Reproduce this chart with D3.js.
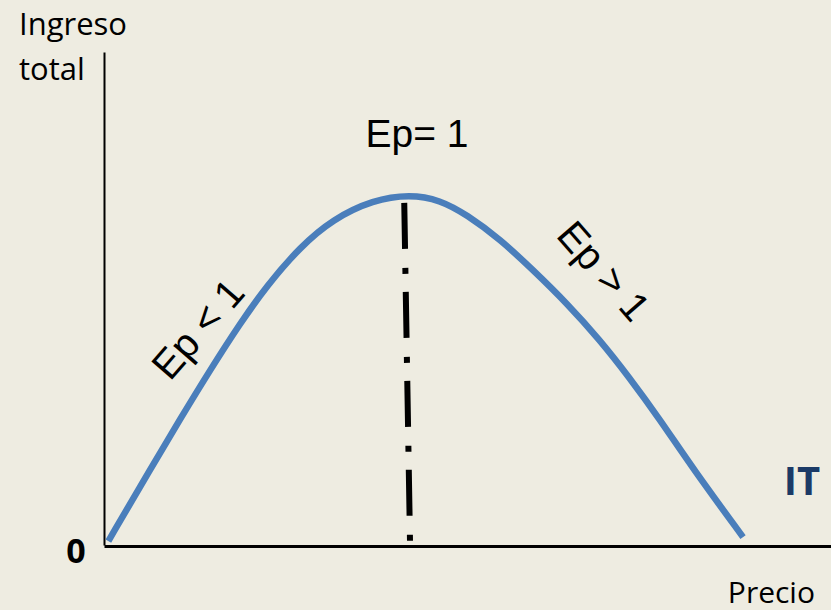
<!DOCTYPE html>
<html>
<head>
<meta charset="utf-8">
<script src="https://cdn.jsdelivr.net/npm/d3@7/dist/d3.min.js"></script>
<style>
  html, body { margin: 0; padding: 0; background: #EEECE1; }
  svg { display: block; }
</style>
</head>
<body>
<svg id="chart" width="831" height="610"></svg>
<script>
// Data (price units, total revenue units)
const price = [0.06, 0.63, 1.05, 1.46, 1.87, 2.24, 2.70, 3.15, 3.70, 4.21, 4.62, 4.99, 5.45, 5.90, 6.37, 6.82, 7.21, 7.65, 8.10, 8.79];
const ingreso = [0.08, 1.52, 2.56, 3.55, 4.49, 5.26, 6.05, 6.61, 7.00, 7.11, 7.00, 6.70, 6.20, 5.58, 4.90, 4.16, 3.43, 2.54, 1.55, 0.16];
const peakLinePrice = [4.13, 4.21];
const peakLineIngreso = [6.94, 0];
const labels = { yTitle: ["Ingreso", "total"], xTitle: "Precio", zero: "0", series: "IT",
                 peak: "Ep= 1", left: "Ep < 1", right: "Ep > 1" };

const svg = d3.select("#chart");
svg.append("rect").attr("width", 831).attr("height", 610).attr("fill", "#EEECE1");

const x = d3.scaleLinear().domain([0, 10]).range([104, 831]);
const y = d3.scaleLinear().domain([0, 10]).range([545, 52]);

// Axes (no ticks)
const yAxis = svg.append("g").attr("transform", `translate(${x(0)},0)`)
  .call(d3.axisLeft(y).tickValues([]).tickSizeOuter(0));
yAxis.select(".domain").attr("stroke", "#000").attr("stroke-width", 2);

const xAxis = svg.append("g").attr("transform", `translate(0,${y(0) + 1})`)
  .call(d3.axisBottom(x).tickValues([]).tickSizeOuter(0));
xAxis.select(".domain").attr("stroke", "#000").attr("stroke-width", 3);

// Dash-dot line at the peak
const peakPts = peakLinePrice.map((p, i) => [p, peakLineIngreso[i]]);
svg.append("path")
  .datum(peakPts)
  .attr("d", d3.line().x(d => x(d[0])).y(d => y(d[1])))
  .attr("fill", "none")
  .attr("stroke", "#000")
  .attr("stroke-width", 6)
  .attr("stroke-dasharray", "46,19,6,18");

// IT curve
const pts = price.map((p, i) => [p, ingreso[i]]);
svg.append("path")
  .datum(pts)
  .attr("d", d3.line().x(d => x(d[0])).y(d => y(d[1])).curve(d3.curveBasis))
  .attr("fill", "none")
  .attr("stroke", "#4A7EBB")
  .attr("stroke-width", 6.5)
  .attr("stroke-linecap", "butt");

// Texts
const sans = "'Open Sans', sans-serif";
const arial = "'Liberation Sans', Arial, sans-serif";

svg.append("text").attr("x", 19).attr("y", 35).attr("font-family", sans).attr("font-size", 31)
  .attr("fill", "#000").text(labels.yTitle[0]);
svg.append("text").attr("x", 19).attr("y", 80).attr("font-family", sans).attr("font-size", 31)
  .attr("fill", "#000").text(labels.yTitle[1]);

svg.append("text").attr("x", 815).attr("y", 603).attr("text-anchor", "end")
  .attr("font-family", sans).attr("font-size", 30).attr("fill", "#000").text(labels.xTitle);

svg.append("text").attr("x", 76).attr("y", 563).attr("text-anchor", "middle")
  .attr("font-family", sans).attr("font-weight", "bold").attr("font-size", 34)
  .attr("fill", "#000").text(labels.zero);

svg.append("text").attr("x", 802).attr("y", 495).attr("text-anchor", "middle")
  .attr("font-family", sans).attr("font-weight", "bold").attr("font-size", 40)
  .attr("fill", "#1b3a66").text(labels.series);

svg.append("text").attr("x", 417).attr("y", 147).attr("text-anchor", "middle")
  .attr("font-family", arial).attr("font-size", 39).attr("fill", "#000").text(labels.peak);

svg.append("text").attr("transform", "translate(170,382) rotate(-49)")
  .attr("font-family", arial).attr("font-size", 40).attr("fill", "#000").text(labels.left);

svg.append("text").attr("transform", "translate(555,236) rotate(49)")
  .attr("font-family", arial).attr("font-size", 40).attr("fill", "#000").text(labels.right);
</script>
</body>
</html>
